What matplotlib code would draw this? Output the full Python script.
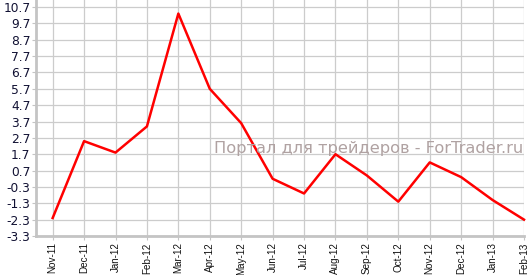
import matplotlib
matplotlib.use("Agg")
import matplotlib.pyplot as plt
import numpy as np

months = ["Nov-11", "Dec-11", "Jan-12", "Feb-12", "Mar-12", "Apr-12", "May-12", "Jun-12",
          "Jul-12", "Aug-12", "Sep-12", "Oct-12", "Nov-12", "Dec-12", "Jan-13", "Feb-13"]
values = [-2.2, 2.5, 1.8, 3.4, 10.3, 5.7, 3.6, 0.2,
          -0.7, 1.7, 0.4, -1.2, 1.2, 0.3, -1.1, -2.3]
y_ticks = [10.7, 9.7, 8.7, 7.7, 6.7, 5.7, 4.7, 3.7, 2.7, 1.7, 0.7, -0.3, -1.3, -2.3, -3.3]
watermark = "Портал для трейдеров - ForTrader.ru"

W, H = 529, 275
fig = plt.figure(figsize=(W / 100, H / 100), dpi=100)
ax = fig.add_axes([36 / W, 1 - 236 / H, (524 - 36) / W, 236 / H])

x = np.arange(len(months))
ax.plot(x, values, color="#ff0000", lw=1.8, clip_on=False, zorder=5)

ax.set_xlim(-0.53, len(months) - 1)
ax.set_ylim(-3.3, 11.13)
ax.set_xticks(x)
ax.set_xticklabels(months, rotation=90, fontsize=7.1, family="Liberation Sans", color="#111111")
ax.set_yticks(y_ticks)
ax.set_yticklabels([f"{v:.1f}" for v in y_ticks], fontsize=8.8, color="#111133")

ax.grid(True, color="#cccccc", lw=0.9)
ax.set_axisbelow(True)
for s in ["top", "right"]:
    ax.spines[s].set_visible(False)
for s in ["bottom", "left"]:
    ax.spines[s].set_color("#c4c4c4")
    ax.spines[s].set_linewidth(2)
ax.tick_params(axis="x", length=3, color="#c4c4c4", pad=1.5)
ax.tick_params(axis="y", length=3, color="#c4c4c4", pad=1)

fig.text(523 / W, 1 - 148 / H, watermark, ha="right", va="center",
         fontsize=11.7, color="#b0a2a2")

fig.savefig("out.png", dpi=100)
